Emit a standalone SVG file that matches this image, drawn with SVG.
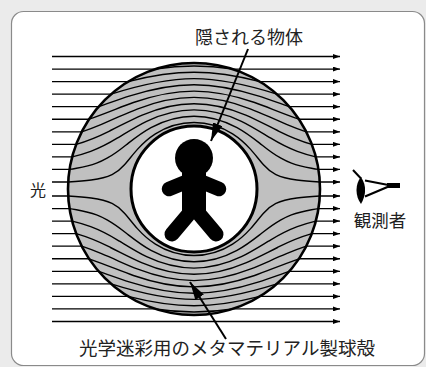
<svg xmlns="http://www.w3.org/2000/svg" xmlns:xlink="http://www.w3.org/1999/xlink" width="426" height="367" viewBox="0 0 426 367">
  <style>
    .ray { stroke: #000; stroke-width: 1.3; fill: none; marker-end: url(#rayHead); }
    .flow path { stroke: #000; stroke-width: 1.4; fill: none; }
    .label { font-family: "Noto Sans CJK JP", "Noto Sans", sans-serif; fill: #222; }
    .pointer { stroke: #000; stroke-width: 2; fill: none; marker-end: url(#pointerHead); }
  </style>
  <defs>
    <marker id="rayHead" markerUnits="userSpaceOnUse" markerWidth="7" markerHeight="5" refX="7" refY="2.5" orient="auto">
      <path d="M0,0 L7,2.5 L0,5 Z" fill="#000"/>
    </marker>
    <marker id="pointerHead" markerUnits="userSpaceOnUse" markerWidth="19" markerHeight="10" refX="18" refY="5" orient="auto">
      <path d="M0,0 L18,5 L0,10 Z" fill="#000"/>
    </marker>
    <!-- upper-left quarter of each bent ray, local coords centred on the shell -->
    <g id="flowQuarter" class="flow">
      <path d="M-125.8,-7 C-113.8,-7.7 -107.7,-8.3 -102.8,-9 C-89.2,-10.8 -85.6,-12.6 -81.9,-14.4 C-74.5,-18.1 -71.8,-21.6 -68.8,-25 C-64.3,-30.2 -60.7,-35.1 -56.6,-39.6 C-51.2,-45.6 -45.2,-50.9 -38.6,-55.1 C-27,-62.5 -13.5,-66.5 0,-66.5"/>
      <path d="M-124.5,-19.6 C-121.9,-19.9 -119.6,-20.3 -117.5,-20.7 C-98,-24.3 -92.2,-27.9 -86.1,-31.3 C-76.9,-36.5 -71.3,-41.4 -65.6,-45.9 C-57.9,-51.9 -50.7,-57.2 -43,-61.4 C-29.5,-68.7 -14.8,-72.8 0,-72.8"/>
      <path d="M-121.8,-32.1 C-113.8,-34 -108.1,-35.8 -103.3,-37.6 C-89.4,-42.8 -81.9,-47.7 -74.5,-52.2 C-64.6,-58.2 -56.2,-63.5 -47.4,-67.7 C-32,-75 -16.1,-79.1 0,-79.1"/>
      <path d="M-117.8,-44.7 C-101.2,-49.5 -92.1,-54.2 -83.5,-58.5 C-71.4,-64.5 -61.6,-69.7 -51.8,-73.9 C-34.5,-81.3 -17.4,-85.3 0,-85.3"/>
      <path d="M-112.3,-57.2 C-104.5,-59.8 -98.2,-62.3 -92.5,-64.7 C-78.1,-70.7 -67.1,-76 -56.2,-80.2 C-37,-87.6 -18.7,-91.6 0,-91.6"/>
      <path d="M-104.9,-69.8 C-86.4,-76.3 -73.4,-82 -60.6,-86.5 C-39.5,-93.8 -19.9,-97.9 0,-97.9"/>
      <path d="M-95.4,-82.3 C-84,-86.2 -74.3,-89.8 -64.9,-92.8 C-42,-100.1 -21.2,-104.2 0,-104.2"/>
      <path d="M-82.9,-94.9 C-51.5,-104.8 -26.4,-110.4 0,-110.4"/>
      <path d="M-65.9,-107.4 C-42.5,-113.4 -21.4,-116.7 0,-116.7"/>
      <path d="M-38.6,-120 C-25.5,-122 -12.7,-123 0,-123"/>
    </g>
  </defs>

  <!-- page and panel -->
  <rect width="426" height="367" fill="#ebebeb"/>
  <rect id="frame" x="11.5" y="11.5" width="413" height="354" rx="12" fill="#fff" stroke="#8a8a8a" stroke-width="1.2"/>

  <!-- incoming light: straight rays, hidden inside the shell -->
  <g id="light-rays">
    <line class="ray" x1="52" y1="56.5" x2="340" y2="56.5"/>
    <line class="ray" x1="52" y1="69.05" x2="340" y2="69.05"/>
    <line class="ray" x1="52" y1="81.6" x2="340" y2="81.6"/>
    <line class="ray" x1="52" y1="94.15" x2="340" y2="94.15"/>
    <line class="ray" x1="52" y1="106.7" x2="340" y2="106.7"/>
    <line class="ray" x1="52" y1="119.25" x2="340" y2="119.25"/>
    <line class="ray" x1="52" y1="131.8" x2="340" y2="131.8"/>
    <line class="ray" x1="52" y1="144.35" x2="340" y2="144.35"/>
    <line class="ray" x1="52" y1="156.9" x2="340" y2="156.9"/>
    <line class="ray" x1="52" y1="169.45" x2="340" y2="169.45"/>
    <line class="ray" x1="52" y1="182" x2="340" y2="182"/>
    <line class="ray" x1="52" y1="196" x2="340" y2="196"/>
    <line class="ray" x1="52" y1="208.55" x2="340" y2="208.55"/>
    <line class="ray" x1="52" y1="221.1" x2="340" y2="221.1"/>
    <line class="ray" x1="52" y1="233.65" x2="340" y2="233.65"/>
    <line class="ray" x1="52" y1="246.2" x2="340" y2="246.2"/>
    <line class="ray" x1="52" y1="258.75" x2="340" y2="258.75"/>
    <line class="ray" x1="52" y1="271.3" x2="340" y2="271.3"/>
    <line class="ray" x1="52" y1="283.85" x2="340" y2="283.85"/>
    <line class="ray" x1="52" y1="296.4" x2="340" y2="296.4"/>
    <line class="ray" x1="52" y1="308.95" x2="340" y2="308.95"/>
    <line class="ray" x1="52" y1="321.5" x2="340" y2="321.5"/>
  </g>

  <!-- metamaterial shell with the rays bent around the core -->
  <g id="cloak-shell">
    <circle cx="194" cy="189" r="126" fill="#c0c0c0"/>
    <use xlink:href="#flowQuarter" href="#flowQuarter" transform="translate(194 189)"/>
    <use xlink:href="#flowQuarter" href="#flowQuarter" transform="translate(194 189) scale(-1 1)"/>
    <use xlink:href="#flowQuarter" href="#flowQuarter" transform="translate(194 189) scale(1 -1)"/>
    <use xlink:href="#flowQuarter" href="#flowQuarter" transform="translate(194 189) scale(-1 -1)"/>
    <circle cx="194" cy="189" r="63" fill="#fff" stroke="#000" stroke-width="3"/>
    <circle cx="194" cy="189" r="126" fill="none" stroke="#000" stroke-width="2.6"/>
  </g>

  <!-- hidden person -->
  <g id="hidden-object" fill="#000" stroke="#000" stroke-linecap="round" stroke-linejoin="round">
    <circle cx="194" cy="158" r="19" stroke="none"/>
    <rect x="182" y="172" width="24" height="46" stroke="none"/>
    <path d="M169,189 L186,182 L202,182 L219,189" fill="none" stroke-width="14.5"/>
    <path d="M188,215 L172,234 M200,215 L216,234" fill="none" stroke-width="15"/>
  </g>

  <!-- observer's eye -->
  <g id="observer" stroke="#000">
    <line x1="353" y1="170" x2="361" y2="178.5" stroke-width="2"/>
    <path d="M361,177 C355,184 355,196 361,204 C366,195 367,186 361,177 Z" fill="#000" stroke="none"/>
    <path d="M365,180.5 L391,185.5 L365,196.5" fill="#fff" stroke-width="2.2" stroke-linejoin="round"/>
    <rect x="387" y="183" width="13" height="5" fill="#000" stroke="none"/>
  </g>

  <!-- labels -->
  <g id="labels">
    <text id="label-object" class="label" x="249" y="44" font-size="18" text-anchor="middle">隠される物体</text>
    <text id="label-light" class="label" x="38" y="196" font-size="16" text-anchor="middle">光</text>
    <text id="label-observer" class="label" x="380" y="227" font-size="17.5" text-anchor="middle">観測者</text>
    <text id="label-shell" class="label" x="227" y="355" font-size="18.5" text-anchor="middle">光学迷彩用のメタマテリアル製球殻</text>
  </g>

  <!-- leader arrows -->
  <g id="connectors">
    <line class="pointer" x1="248" y1="49" x2="211" y2="141"/>
    <line class="pointer" x1="226" y1="339" x2="190" y2="282"/>
  </g>
</svg>
